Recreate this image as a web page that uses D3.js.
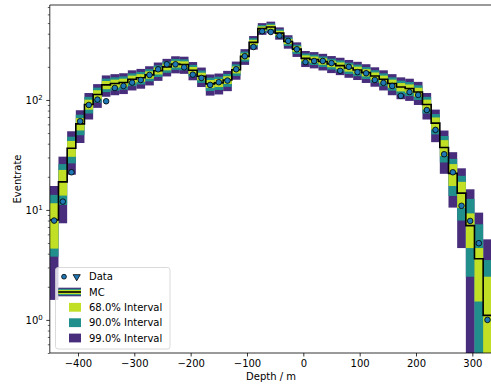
<!DOCTYPE html>
<html><head><meta charset="utf-8">
<script src="https://cdn.jsdelivr.net/npm/d3@7"></script>
<style>body{margin:0;background:#fff;}svg{display:block;}text{font-family:"DejaVu Sans",sans-serif;}</style>
</head><body><svg id="c" width="491" height="384"></svg>
<script>
// ---- data ----
const binEdges = [-450,-434.6,-419.2,-403.8,-388.5,-373.1,-357.7,-342.3,-326.9,-311.5,-296.2,-280.8,-265.4,-250,-234.6,-219.2,-203.8,-188.5,-173.1,-157.7,-142.3,-126.9,-111.5,-96.2,-80.8,-65.4,-50,-34.6,-19.2,-3.8,11.5,26.9,42.3,57.7,73.1,88.5,103.8,119.2,134.6,150,165.4,180.8,196.2,211.5,226.9,242.3,257.7,273.1,288.5,303.8,319.2,334.6];
const mcValues = [8.1,18,36.4,60.6,91,112,137,141,144,154,159,169,184,200,212,210,186,164,140,143,152,188,249,334,445,460,405,340,290,239,233,224,213,205,195,187,177,165,154,141,131,127,118,91,61.5,37,21.5,14.2,7.2,3.6,1.1];
const dataValues = [8.0,11.9,22.0,64,90,100.7,97.3,128.5,134,143.6,152,168.7,190,211,211,198,170,158.5,137,145,150,190,250,303,421,415,384,344,289,221,226,226,216,184,200,179,175,152,143,134,109,118,111,81,53.4,32.1,22,10.9,7.94,4.98,1.0];
const lo99 = [1.52,7.56,20.9,40.6,66.4,84.7,106.9,110.4,113.1,122,126.5,135.5,149.1,163.6,174.5,172.7,150.9,131,109.5,112.2,120.2,152.7,208.4,286.9,390.7,404.7,353.2,292.5,246.1,199.2,193.7,185.4,175.4,168.1,159,151.8,142.7,131.9,122,110.4,101.5,98,90,66.4,41.3,21.3,10.5,4.5,0.3,0.1,0.05];
const lo90 = [3.76,11.1,26.5,47.8,75.3,94.6,117.8,121.5,124.3,133.6,138.3,147.6,161.7,176.7,188,186.2,163.6,142.9,120.5,123.3,131.7,165.4,223,303.9,410.3,424.7,371.9,309.7,262,213.6,207.9,199.4,189,181.4,172,164.5,155.1,143.9,133.6,121.5,112.2,108.5,100.1,75.3,48.6,27,13.4,8,2.47,0.3,0.1];
const lo68 = [4.45,13.5,30.4,52.8,81.5,101.4,125.3,129.1,132,141.6,146.4,156,170.4,185.9,197.4,195.5,172.4,151.2,128.2,131,139.7,174.3,233.2,315.7,423.9,438.6,384.9,321.6,273,223.5,217.7,209,198.4,190.7,181,173.3,163.7,152.2,141.6,129.1,119.6,115.7,107.1,81.5,53.7,30.9,16.5,10.4,4.5,1.47,0.2];
const hi68 = [11.5,23.1,42.4,68.4,100.5,122.6,148.7,152.9,156,166.4,171.6,182,197.6,214.1,226.6,224.5,199.6,176.8,151.8,155,164.3,201.7,264.8,352.3,466.1,481.4,425.1,358.4,307,254.5,248.3,239,227.6,219.3,209,200.7,190.3,177.8,166.4,152.9,142.4,138.3,128.9,100.5,69.3,43.1,26.1,18,9.3,4.5,2.47];
const hi90 = [13.7,26.1,46.3,73.4,106.7,129.4,156.2,160.5,163.7,174.4,179.7,190.4,206.3,223.3,236,233.8,208.4,185.1,159.5,162.7,172.3,210.6,275,364.1,479.7,495.3,438.1,370.3,318,264.4,258.1,248.6,237,228.6,218,209.5,198.9,186.1,174.4,160.5,149.8,145.5,135.9,106.7,74.4,47,29.1,20.4,12.6,7.4,3.5];
const hi99 = [16.5,30.5,51.9,80.6,115.6,139.3,167.1,171.6,174.9,186,191.5,202.5,218.9,236.4,249.5,247.3,221.1,197,170.5,173.8,183.8,223.3,289.6,381.1,499.3,515.3,456.8,387.5,333.9,278.8,272.3,262.6,250.6,241.9,231,222.2,211.3,198.1,186,171.6,160.5,156,146,115.6,81.7,52.7,33.5,23.9,15.4,9.45,5.4];
const xTicks = [-400,-300,-200,-100,0,100,200,300];
const yMajorTicks = [1,10,100];
const yMinorTicks = [0.5,0.6,0.7,0.8,0.9,2,3,4,5,6,7,8,9,20,30,40,50,60,70,80,90,200,300,400,500,600,700];
const legendLabels = ["Data","MC","68.0% Interval","90.0% Interval","99.0% Interval"];
const xLabel = "Depth / m", yLabel = "Eventrate";

// ---- drawing ----
const C99 = "#472d7b", C90 = "#21908d", C68 = "#c0df25", CDATA = "#1f77b4";
const svg = d3.select("#c");
const L = 49.8, R = 500.5, T = 5, B = 353;
const x = d3.scaleLinear().domain([-450, 350]).range([L, R]);
const y = d3.scaleLog().domain([0.5, 730]).range([B, T]);

svg.append("defs").append("clipPath").attr("id","clip")
  .append("rect").attr("x",L).attr("y",T).attr("width",R-L).attr("height",B-T);
const plot = svg.append("g").attr("clip-path","url(#clip)");

const bins = mcValues.map((m,i)=>({i, x0: binEdges[i], x1: binEdges[i+1], m, d: dataValues[i]}));
const bands = [[lo99,hi99,C99],[lo90,hi90,C90],[lo68,hi68,C68]];
bands.forEach(([lo,hi,col])=>{
  plot.append("g").selectAll("rect").data(bins).join("rect")
    .attr("x", d=>x(d.x0)).attr("width", d=>x(d.x1)-x(d.x0))
    .attr("y", d=>y(hi[d.i])).attr("height", d=>Math.max(0, y(Math.max(lo[d.i],0.05))-y(hi[d.i])))
    .attr("fill", col);
});

// MC step line
const stepPts = [];
bins.forEach(b=>{ stepPts.push([x(b.x0), y(b.m)]); stepPts.push([x(b.x1), y(b.m)]); });
plot.append("path").attr("d", d3.line()(stepPts)).attr("fill","none")
  .attr("stroke","#000").attr("stroke-width",1.6);

// data points
plot.append("g").selectAll("circle").data(bins).join("circle")
  .attr("cx", d=>x((d.x0+d.x1)/2)).attr("cy", d=>y(d.d)).attr("r", 2.8)
  .attr("fill", CDATA).attr("stroke","#000").attr("stroke-width",0.8);

// axes
const xAxis = svg.append("g").attr("transform",`translate(0,${B})`)
  .call(d3.axisBottom(x).tickValues(xTicks).tickSize(3.5).tickPadding(3.5).tickFormat(d=>d<0?"\u2212"+Math.abs(d):String(d)));
xAxis.select(".domain").remove();
xAxis.selectAll("text").attr("font-size","10px").attr("fill","#000").attr("font-family","DejaVu Sans");
xAxis.selectAll("line").attr("stroke","#000").attr("stroke-width",0.8);

const yMinor = svg.append("g").attr("transform",`translate(${L},0)`)
  .call(d3.axisLeft(y).tickValues(yMinorTicks).tickSize(2).tickFormat(""));
yMinor.select(".domain").remove();
yMinor.selectAll("line").attr("stroke","#000").attr("stroke-width",0.6);
const yMajor = svg.append("g").attr("transform",`translate(${L},0)`)
  .call(d3.axisLeft(y).tickValues(yMajorTicks).tickSize(3.5).tickPadding(3.5).tickFormat(""));
yMajor.select(".domain").remove();
yMajor.selectAll("line").attr("stroke","#000").attr("stroke-width",0.8);
yMajor.selectAll(".tick text").each(function(d){
  const t = d3.select(this).attr("font-size","10px").attr("fill","#000").attr("font-family","DejaVu Sans");
  t.text(null);
  t.append("tspan").text("10");
  t.append("tspan").attr("font-size","7px").attr("dy","-4").text(String(Math.round(Math.log10(d))));
});

// spines
svg.append("line").attr("x1",L).attr("x2",L).attr("y1",T).attr("y2",B).attr("stroke","#000").attr("stroke-width",0.8);
svg.append("line").attr("x1",L).attr("x2",R).attr("y1",B).attr("y2",B).attr("stroke","#000").attr("stroke-width",0.8);
svg.append("line").attr("x1",L).attr("x2",R).attr("y1",T).attr("y2",T).attr("stroke","#000").attr("stroke-width",0.8);

// labels
svg.append("text").attr("x",271).attr("y",380).attr("text-anchor","middle").attr("font-size","10px").text(xLabel);
svg.append("text").attr("transform",`translate(20.5,${(T+B)/2}) rotate(-90)`).attr("text-anchor","middle").attr("font-size","10px").text(yLabel);

// legend
const lg = svg.append("g");
lg.append("rect").attr("x",55.5).attr("y",267.5).attr("width",114.5).attr("height",81.5).attr("rx",2.5)
  .attr("fill","#fff").attr("fill-opacity",0.8).attr("stroke","#d0d0d0").attr("stroke-width",0.8);
const rowY = [276.7, 292, 307.3, 322.7, 338];
legendLabels.forEach((s,i)=>{
  lg.append("text").attr("x",89).attr("y",rowY[i]+3.6).attr("font-size","10px").text(s);
});
lg.append("circle").attr("cx",64).attr("cy",rowY[0]).attr("r",2.4).attr("fill",CDATA).attr("stroke","#000").attr("stroke-width",0.8);
lg.append("path").attr("d", d3.symbol().type(d3.symbolTriangle).size(22)())
  .attr("transform",`translate(76.7,${rowY[0]}) rotate(180)`).attr("fill",CDATA).attr("stroke","#000").attr("stroke-width",0.8);
// MC handle
lg.append("rect").attr("x",58.3).attr("y",rowY[1]-4.3).attr("width",22.7).attr("height",8.6).attr("fill",C99);
lg.append("rect").attr("x",58.3).attr("y",rowY[1]-3.2).attr("width",22.7).attr("height",6.4).attr("fill",C90);
lg.append("rect").attr("x",58.3).attr("y",rowY[1]-2.1).attr("width",22.7).attr("height",4.2).attr("fill",C68);
lg.append("rect").attr("x",58.3).attr("y",rowY[1]-0.8).attr("width",22.7).attr("height",1.6).attr("fill","#000");
[C68,C90,C99].forEach((c,i)=>{
  lg.append("rect").attr("x",69).attr("y",rowY[i+2]-4.4).attr("width",12).attr("height",8.8).attr("fill",c);
});
</script></body></html>
